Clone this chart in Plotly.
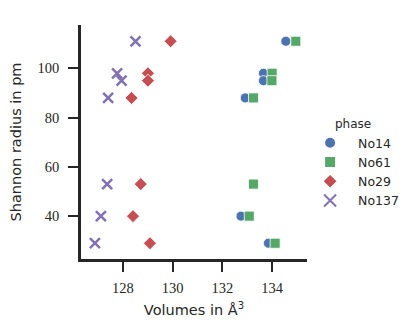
# Shannon radius vs. unit cell volume, by phase
import plotly.graph_objects as go

radii = [111, 98, 95, 88, 53, 40, 29]

vol_no14 = [134.55, 133.65, 133.65, 132.92, 133.25, 132.75, 133.85]
vol_no61 = [134.95, 134.0, 133.99, 133.25, 133.25, 133.08, 134.12]
vol_no29 = [129.92, 129.01, 129.01, 128.35, 128.72, 128.41, 129.09]
vol_no137 = [128.51, 127.77, 127.95, 127.41, 127.37, 127.12, 126.88]

phases = ["No14", "No61", "No29", "No137"]
volumes = [vol_no14, vol_no61, vol_no29, vol_no137]
colors = ["#4C72B0", "#55A868", "#C44E52", "#8172B2"]
symbols = ["circle", "square", "diamond", "x-thin"]

fig = go.Figure()
for name, vols, col, sym in zip(phases, volumes, colors, symbols):
    if sym == "x-thin":
        marker = dict(symbol=sym, size=10, color=col, line=dict(color=col, width=2.5))
    else:
        marker = dict(symbol=sym, size=10, color=col, line=dict(color="white", width=0.8))
    fig.add_trace(go.Scatter(x=vols, y=radii, mode="markers", name=name, marker=marker))

axis_common = dict(
    showgrid=False, zeroline=False, showline=True, linecolor="#262626", linewidth=2.5,
    ticks="outside", ticklen=10, tickwidth=2, tickcolor="#262626",
    tickfont=dict(family="Liberation Serif", size=14.5, color="#262626"),
    automargin=False,
)
title_font = dict(family="DejaVu Sans", size=14.5, color="#262626")
fig.update_xaxes(range=[126.32, 135.4], tickvals=[128, 130, 132, 134], ticklabelstandoff=4,
                 title=dict(text="Volumes in Å<sup>3</sup>", font=title_font, standoff=10),
                 **axis_common)
fig.update_yaxes(range=[22.6, 117.6], tickvals=[40, 60, 80, 100], ticklabelstandoff=6,
                 title=dict(text="Shannon radius in pm", font=title_font, standoff=14),
                 **axis_common)

# the page body adds an 8px offset, so the figure is 8px smaller than the window
fig.update_layout(
    width=407, height=323,
    margin=dict(l=73, r=107, t=17, b=72),
    plot_bgcolor="white", paper_bgcolor="white",
    legend=dict(title=dict(text="phase", side="top center",
                           font=dict(family="DejaVu Sans", size=12, color="#262626")),
                font=dict(family="DejaVu Sans", size=12.5, color="#262626"),
                x=0.974, y=0.406, yanchor="middle", xanchor="left",
                itemwidth=46, tracegroupgap=0, itemsizing="constant"),
)

fig.write_html("out.html")
